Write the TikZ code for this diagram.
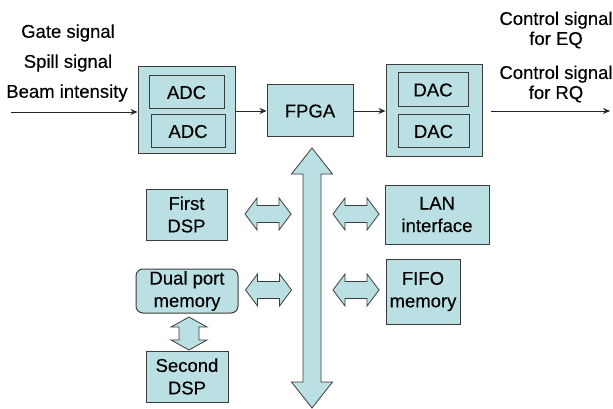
\documentclass[tikz,border=0pt]{standalone}
\usepackage{fontspec}
\setmainfont{Liberation Sans}[FakeBold=0.3]
\usetikzlibrary{arrows.meta}
\definecolor{boxfill}{RGB}{187,224,227}
\definecolor{edge}{RGB}{60,60,60}
\begin{document}
\begin{tikzpicture}[x=1pt,y=-1pt,
  box/.style={draw=edge, fill=boxfill, line width=1pt, inner sep=0pt, align=center,
              font=\fontsize{18.5}{22.5}\selectfont},
  lbl/.style={font=\fontsize{18.5}{20}\selectfont, align=center, inner sep=0pt},
  sig/.style={-{Stealth[length=7pt,width=6pt]}, line width=0.9pt, draw=black!85},
  block/.style={fill=boxfill, draw=edge, line width=0.8pt, line join=miter},
  hdbl/.pic={\draw[block] (-23,0) -- (-11,-16) -- (-11,-8.5) -- (11,-8.5) -- (11,-16)
             -- (23,0) -- (11,16) -- (11,8.5) -- (-11,8.5) -- (-11,16) -- cycle;},
  vdbl/.pic={\draw[block] (0,-16.5) -- (18,-6.5) -- (10,-6.5) -- (10,6.5) -- (18,6.5)
             -- (0,16.5) -- (-18,6.5) -- (-10,6.5) -- (-10,-6.5) -- (-18,-6.5) -- cycle;}]
\useasboundingbox (0,0) rectangle (613,409);

% input signal labels
\node[lbl] (gate)  at (68,33) {Gate signal};
\node[lbl] (spill) at (68,63) {Spill signal};
\node[lbl] (beam)  at (67,93) {Beam intensity};

% output signal labels
\node[lbl] (ctleq) at (556,30) {Control signal\\for EQ};
\node[lbl] (ctlrq) at (556,84) {Control signal\\for RQ};

% converter blocks
\node[box, minimum width=97pt, minimum height=87pt] (adcs) at (186.5,110.5) {};
\node[box, minimum width=75pt, minimum height=33pt] (adc1) at (186.5,92.5) {ADC};
\node[box, minimum width=74pt, minimum height=33pt] (adc2) at (188,131.5) {ADC};

\node[box, minimum width=96pt, minimum height=92pt] (dacs) at (434,111) {};
\node[box, minimum width=70pt, minimum height=34pt] (dac1) at (433,90) {DAC};
\node[box, minimum width=71pt, minimum height=33pt] (dac2) at (433.5,131.5) {DAC};

\node[box, minimum width=86pt, minimum height=52pt] (fpga) at (310,111) {FPGA};

% peripheral blocks
\node[box, minimum width=81pt, minimum height=51pt] (dsp1) at (186.5,214.5) {First\\DSP};
\node[box, minimum width=104pt, minimum height=59pt] (lan) at (437,214.5) {LAN\\interface};
\node[box, minimum width=74pt, minimum height=65pt] (fifo) at (423,291.5) {FIFO\\memory};
\node[box, rounded corners=7pt, minimum width=102pt, minimum height=44pt] (dpm) at (187,291) {Dual port\\memory};
\node[box, minimum width=82pt, minimum height=51pt] (dsp2) at (187,376.5) {Second\\DSP};

% signal flow
\coordinate (inA) at (11,112);
\coordinate (outA) at (491,111);
\coordinate (outB) at (610,111);
\draw[sig] (inA) -- (inA -| adcs.west);
\draw[sig] (adcs.east |- fpga) -- (fpga.west);
\draw[sig] (fpga.east) -- (fpga -| dacs.west);
\draw[sig] (outA) -- (outB);

% data bus
\draw[block] (312,148) -- (332.5,174) -- (321,174) -- (321,382) -- (332.5,382) -- (312,408)
  -- (291.5,382) -- (303,382) -- (303,174) -- (291.5,174) -- cycle;

% bus links
\pic at (268,214) {hdbl};
\pic at (356,214) {hdbl};
\pic at (268.5,290) {hdbl};
\pic at (356,290) {hdbl};
\pic at (189,333.5) {vdbl};
\end{tikzpicture}
\end{document}
